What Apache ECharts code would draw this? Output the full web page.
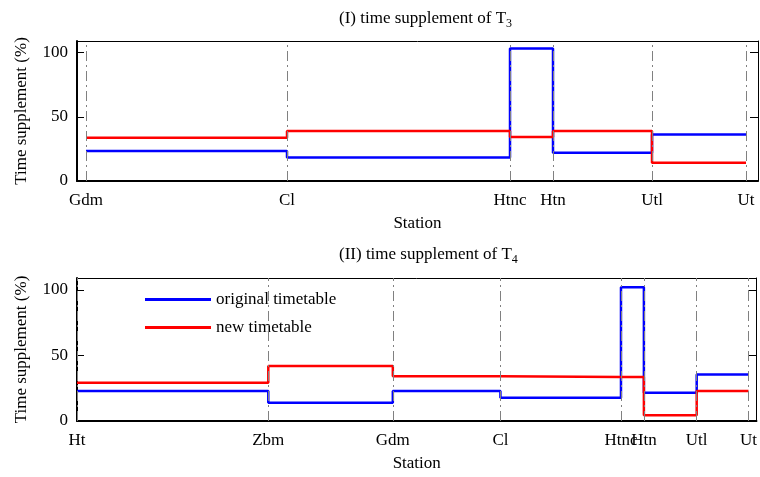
<!DOCTYPE html>
<html>
<head>
<meta charset="utf-8">
<script src="https://cdn.jsdelivr.net/npm/echarts@6/dist/echarts.min.js"></script>
<style>
  html, body { margin: 0; padding: 0; background: #fff; }
  #chart { width: 760px; height: 477px; }
</style>
</head>
<body>
<div id="chart"></div>
<script>
// (I) T3
const topStations = ['Gdm', 'Cl', 'Htnc', 'Htn', 'Utl', 'Ut'];
const topPos = [9, 210, 433, 476, 575, 669];
const topOriginal = [23.3, 18.2, 103.2, 22, 36.3];
const topNew = [33.7, 38.9, 34.2, 38.9, 14.3];

// (II) T4
const botStations = ['Ht', 'Zbm', 'Gdm', 'Cl', 'Htnc', 'Htn', 'Utl', 'Ut'];
const botPos = [0, 192, 317, 425, 546, 569, 622, 674];
const botOriginal = [22.8, 14, 22.8, 17.8, 102, 21.6, 35.5];
const botNew = [29.2, 41.9, 34.2, 33.5, 33.5, 4.3, 22.8];

const yTicks = [0, 50, 100];

const FONT = 'Liberation Serif';
const BLUE = '#0000ff';
const RED = '#ff0000';

// each value holds from one station to the next
function stepData(pos, vals) {
  let out = vals.map((v, i) => [pos[i], v]);
  out.push([pos[vals.length], vals[vals.length - 1]]);
  return out;
}

function bottomX(gi, pos, names, max) {
  return {
    type: 'value', gridIndex: gi, min: 0, max: max,
    axisLine: { onZero: false, lineStyle: { color: '#000', width: 2 } },
    axisTick: { show: false },
    splitLine: { show: false },
    name: 'Station', nameLocation: 'middle', nameGap: 34,
    nameTextStyle: { fontFamily: FONT, fontSize: 17, color: '#000' },
    axisLabel: {
      customValues: pos,
      formatter: v => names[pos.indexOf(v)],
      fontFamily: FONT, fontSize: 17, color: '#000', margin: 11
    }
  };
}

function topX(gi, max) {
  return {
    type: 'value', gridIndex: gi, min: 0, max: max, position: 'top',
    axisLine: { onZero: false, lineStyle: { color: '#000', width: 1 } },
    axisTick: { show: false }, axisLabel: { show: false }, splitLine: { show: false }
  };
}

function leftY(gi) {
  return {
    type: 'value', gridIndex: gi, min: 0, max: 109,
    axisLine: { show: true, onZero: false, lineStyle: { color: '#000', width: 2 } },
    axisTick: { inside: true, length: 7, customValues: yTicks, lineStyle: { color: '#000' } },
    splitLine: { show: false },
    name: 'Time supplement (%)', nameLocation: 'middle', nameGap: 47,
    nameTextStyle: { fontFamily: FONT, fontSize: 17, color: '#000' },
    axisLabel: { customValues: yTicks, fontFamily: FONT, fontSize: 17, color: '#000', margin: 9 }
  };
}

function rightY(gi) {
  return {
    type: 'value', gridIndex: gi, min: 0, max: 109, position: 'right',
    axisLine: { show: true, onZero: false, lineStyle: { color: '#000', width: 1 } },
    axisTick: { inside: true, length: 8, customValues: yTicks, lineStyle: { color: '#000' } },
    axisLabel: { show: false }, splitLine: { show: false }
  };
}

function stepSeries(name, color, xi, yi, data) {
  return {
    name: name, type: 'line', step: 'end',
    xAxisIndex: xi, yAxisIndex: yi,
    data: data, showSymbol: false, symbol: 'none',
    lineStyle: { color: color, width: 2.5 }, itemStyle: { color: color },
    z: 3, animation: false
  };
}

// dash-dot station lines
function stationLines(xi, yi, pos) {
  return {
    name: 'stations', type: 'line', xAxisIndex: xi, yAxisIndex: yi, data: [],
    z: 5, animation: false,
    markLine: {
      silent: true, symbol: 'none', label: { show: false }, animation: false,
      lineStyle: { color: '#808080', width: 1, type: [10, 4, 2, 4] },
      data: pos.map(p => ({ xAxis: p }))
    }
  };
}

const subRich = {
  sub: { fontFamily: FONT, fontSize: 12, color: '#000', padding: [11, 0, 0, 0] }
};

let chart = echarts.init(document.getElementById('chart'));
chart.setOption({
  animation: false,
  title: [
    {
      text: '(I) time supplement of T{sub|3}', left: 334, top: 2,
      textStyle: { fontFamily: FONT, fontSize: 17, fontWeight: 'normal', color: '#000', rich: subRich }
    },
    {
      text: '(II) time supplement of T{sub|4}', left: 334, top: 238,
      textStyle: { fontFamily: FONT, fontSize: 17, fontWeight: 'normal', color: '#000', rich: subRich }
    }
  ],
  legend: {
    data: ['original timetable', 'new timetable'],
    icon: 'rect',
    orient: 'vertical', left: 145, top: 291, padding: 0,
    itemWidth: 66, itemHeight: 3, itemGap: 11,
    textStyle: { fontFamily: FONT, fontSize: 17, color: '#000' }
  },
  grid: [
    { left: 77, right: 2, top: 41, height: 140 },
    { left: 77, right: 1, top: 278, height: 143 }
  ],
  xAxis: [
    bottomX(0, topPos, topStations, 681),
    topX(0, 681),
    bottomX(1, botPos, botStations, 682),
    topX(1, 682)
  ],
  yAxis: [leftY(0), rightY(0), leftY(1), rightY(1)],
  series: [
    stepSeries('original timetable', BLUE, 0, 0, stepData(topPos, topOriginal)),
    stepSeries('new timetable', RED, 0, 0, stepData(topPos, topNew)),
    stationLines(0, 0, topPos),
    stepSeries('original timetable', BLUE, 2, 2, stepData(botPos, botOriginal)),
    stepSeries('new timetable', RED, 2, 2, stepData(botPos, botNew)),
    stationLines(2, 2, botPos)
  ]
});
</script>
</body>
</html>
